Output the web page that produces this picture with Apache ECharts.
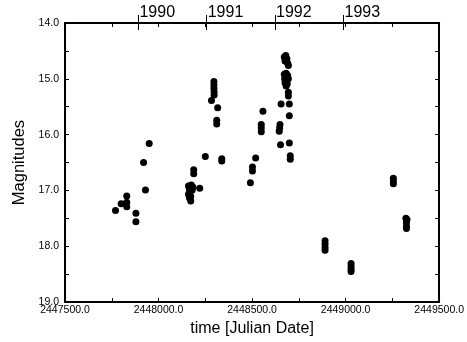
<!DOCTYPE html>
<html><head><meta charset="utf-8">
<script src="https://cdn.jsdelivr.net/npm/echarts@6/dist/echarts.min.js"></script>
<style>html,body{margin:0;padding:0;background:#fff}#c{width:467px;height:342px}</style>
</head><body><div id="c"></div>
<script>
// Observations [Julian Date, magnitude], grouped by observing season
const season1989 = [
  [2447770,17.36],[2447800,17.24],[2447830,17.10],[2447830,17.21],[2447830,17.29],
  [2447879,17.41],[2447879,17.56],[2447920,16.50],[2447930,16.99],[2447950,16.16]
];
const season1990 = [
  [2448160,16.92],[2448165,16.98],[2448168,17.04],[2448160,17.07],[2448175,16.90],
  [2448180,16.99],[2448172,17.11],[2448165,17.13],[2448183,16.94],[2448172,17.19],
  [2448188,16.70],[2448188,16.63],[2448220,16.96],[2448250,16.39],[2448283,15.39],
  [2448296,15.05],[2448296,15.11],[2448296,15.17],[2448297,15.23],[2448297,15.29],
  [2448316,15.52],[2448311,15.74],[2448311,15.81],[2448338,16.43],[2448338,16.47]
];
const season1991 = [
  [2448491,16.86],[2448502,16.58],[2448502,16.65],[2448519,16.42],[2448549,15.82],
  [2448549,15.88],[2448549,15.95],[2448558,15.58],[2448649,15.82],[2448647,15.88],
  [2448645,15.94],[2448655,15.45],[2448652,16.18],[2448672,14.61],[2448680,14.58],
  [2448686,14.64],[2448676,14.68],[2448690,14.72],[2448694,14.76],[2448672,14.92],
  [2448682,14.90],[2448690,14.94],[2448674,15.00],[2448694,15.00],[2448676,15.07],
  [2448688,15.09],[2448682,15.13],[2448694,15.24],[2448694,15.31],[2448699,15.45],
  [2448699,15.66],[2448699,16.15],[2448704,16.38],[2448704,16.44]
];
const season1992 = [
  [2448890,17.90],[2448890,17.96],[2448890,18.02],[2448890,18.07],
  [2449029,18.31],[2449029,18.36],[2449029,18.41],[2449029,18.45],
  [2449255,16.78],[2449255,16.83],[2449255,16.88],
  [2449322,17.50],[2449328,17.52],[2449325,17.58],[2449325,17.64],[2449325,17.68]
];
const yearLabels = ['1990','1991','1992','1993'];
const yearDates = [2447892.5, 2448257.5, 2448622.5, 2448988.5];
const xMin = 2447500, xMax = 2449500, xStep = 500;
const yMin = 14, yMax = 19, yStep = 1;

const FONT = "'Liberation Sans', Arial, Helvetica, sans-serif";
const lineStyle = {color:'#000', width:2};
const chart = echarts.init(document.getElementById('c'), null, {renderer:'canvas'});
chart.setOption({
  animation:false,
  backgroundColor:'#fff',
  textStyle:{fontFamily:FONT},
  grid:{left:65, right:24, top:23, bottom:34.5, containLabel:false},
  xAxis:[
    {type:'value', position:'bottom', min:xMin, max:xMax, interval:xStep,
     name:'time [Julian Date]', nameLocation:'middle', nameGap:14,
     nameTextStyle:{fontSize:16, color:'#000', fontFamily:FONT},
     axisLine:{show:true, lineStyle}, splitLine:{show:false},
     axisTick:{show:true, inside:true, length:4, lineStyle:{color:'#000'}},
     minorTick:{show:true, splitNumber:2, length:4, lineStyle:{color:'#000'}},
     axisLabel:{show:true, fontSize:10.5, color:'#000', margin:3, fontFamily:FONT,
       showMinLabel:true, showMaxLabel:true, hideOverlap:false,
       formatter:v=>v.toFixed(1)}},
    {type:'value', position:'top', min:xMin, max:xMax, interval:250,
     axisLine:{show:true, lineStyle}, splitLine:{show:false},
     axisTick:{show:true, inside:true, length:4, lineStyle:{color:'#000'}},
     axisLabel:{show:false}},
    {type:'value', position:'top', min:xMin, max:xMax,
     axisLine:{show:false}, splitLine:{show:false},
     axisTick:{show:true, inside:false, length:8, customValues:yearDates, lineStyle:{color:'#000'}},
     axisLabel:{show:true, customValues:yearDates, fontSize:16, color:'#000', margin:2,
       align:'left', verticalAlign:'bottom', padding:[0,0,0,1], fontFamily:FONT,
       formatter:v=>yearLabels[yearDates.indexOf(v)]}},
    {type:'value', position:'top', min:xMin, max:xMax,
     axisLine:{show:false}, splitLine:{show:false},
     axisTick:{show:true, inside:true, length:7, customValues:yearDates, lineStyle:{color:'#000'}},
     axisLabel:{show:false}}
  ],
  yAxis:[
    {type:'value', position:'left', inverse:true, min:yMin, max:yMax, interval:yStep,
     name:'Magnitudes', nameLocation:'middle', nameGap:32,
     nameTextStyle:{fontSize:16.5, color:'#000', fontFamily:FONT},
     axisLine:{show:true, lineStyle}, splitLine:{show:false},
     axisTick:{show:true, inside:true, length:4, lineStyle:{color:'#000'}},
     minorTick:{show:true, splitNumber:2, length:4, lineStyle:{color:'#000'}},
     axisLabel:{show:true, fontSize:10.5, color:'#000', margin:6, fontFamily:FONT,
       showMinLabel:true, showMaxLabel:true, formatter:v=>v.toFixed(1)}},
    {type:'value', position:'right', inverse:true, min:yMin, max:yMax, interval:yStep,
     axisLine:{show:true, lineStyle}, splitLine:{show:false},
     axisTick:{show:true, inside:true, length:4, lineStyle:{color:'#000'}},
     minorTick:{show:true, splitNumber:2, length:4, lineStyle:{color:'#000'}},
     axisLabel:{show:false}}
  ],
  series:[season1989, season1990, season1991, season1992].map(d=>({
    type:'scatter', xAxisIndex:0, yAxisIndex:0, data:d,
    symbol:'circle', symbolSize:7, itemStyle:{color:'#000', opacity:1}
  }))
});
</script></body></html>
